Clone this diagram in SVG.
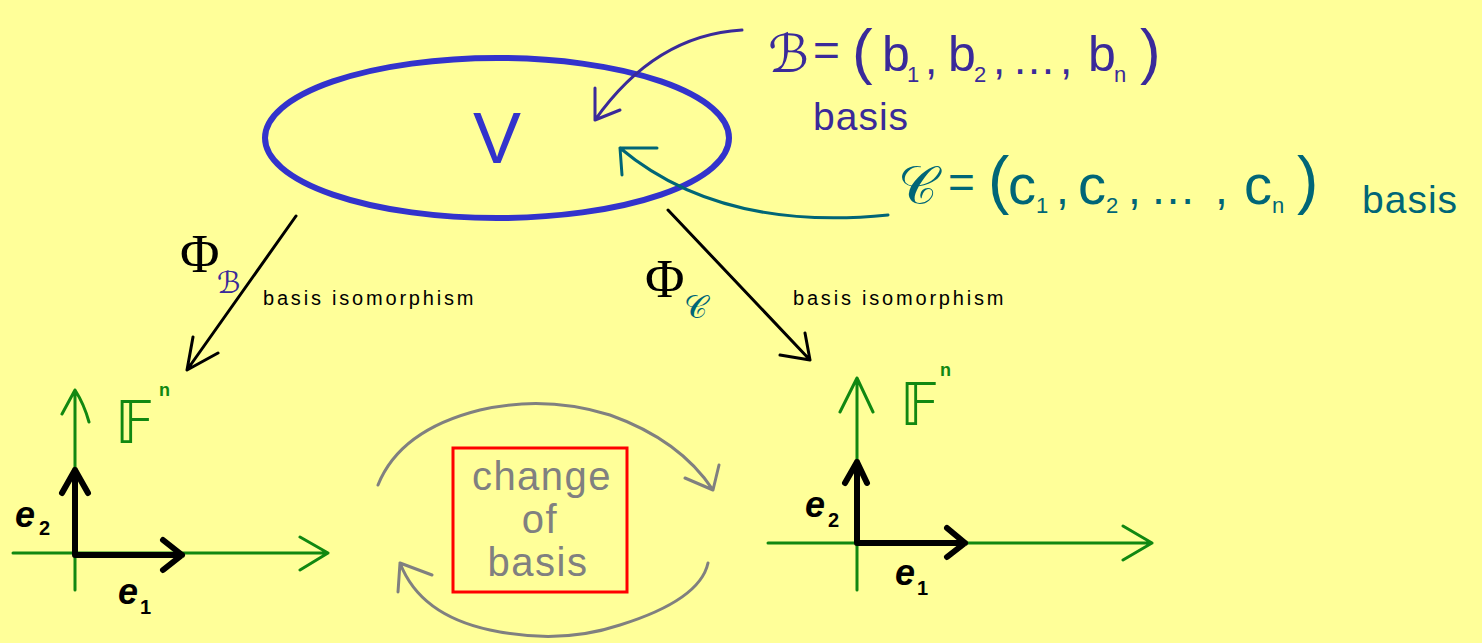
<svg xmlns="http://www.w3.org/2000/svg" width="1482" height="643" viewBox="0 0 1482 643">
<style>
text{font-family:"Liberation Sans","DejaVu Sans",sans-serif}
.pur{fill:#3a2a9a}
.teal{fill:#006677}
.blk{fill:#000}
.grn{fill:#118811}
.gry{fill:#808080}
.ln{fill:none;stroke-linecap:round;stroke-linejoin:round}
</style>
<rect width="1482" height="643" fill="#ffff99"/>
<g id="V">
<ellipse cx="497" cy="138" rx="232" ry="80" fill="none" stroke="#3333cc" stroke-width="6"/>
<text x="497" y="163" font-size="72" text-anchor="middle" style="fill:#3333cc">V</text>
</g>
<g id="basisB">
<text y="72" class="pur" font-size="52"><tspan x="768">ℬ</tspan></text>
<text y="66" class="pur" font-size="46"><tspan x="813">=</tspan></text>
<text y="72" class="pur" font-size="62"><tspan x="852">(</tspan><tspan x="1140">)</tspan></text>
<text y="71" class="pur" font-size="50"><tspan x="882">b</tspan><tspan x="948">b</tspan><tspan x="1088">b</tspan></text>
<text y="82" class="pur" font-size="22"><tspan x="907">1</tspan><tspan x="974">2</tspan><tspan x="1114">n</tspan></text>
<text y="74" class="pur" font-size="44"><tspan x="925">,</tspan><tspan x="993">,</tspan><tspan x="1012">…</tspan><tspan x="1060">,</tspan></text>
<text x="813" y="130" class="pur" font-size="39" letter-spacing="1">basis</text>
</g>
<g id="basisC">
<text y="204" class="teal" font-size="54"><tspan x="898">𝒞</tspan></text>
<text y="198" class="teal" font-size="46"><tspan x="948">=</tspan></text>
<text y="202" class="teal" font-size="64"><tspan x="988">(</tspan><tspan x="1297">)</tspan></text>
<text y="204" class="teal" font-size="56"><tspan x="1008">c</tspan><tspan x="1078">c</tspan><tspan x="1244">c</tspan></text>
<text y="213" class="teal" font-size="22"><tspan x="1036">1</tspan><tspan x="1106">2</tspan><tspan x="1272">n</tspan></text>
<text y="204" class="teal" font-size="46"><tspan x="1056">,</tspan><tspan x="1128">,</tspan><tspan x="1150">…</tspan><tspan x="1215">,</tspan></text>
<text x="1362" y="213" class="teal" font-size="39" letter-spacing="1">basis</text>
</g>
<g id="Fleft">
<path class="ln" d="M75 590 V390 M62 414 L75 390 Q84 404 89 422 M13 553 H328 M300 537 L328 553 L300 570" stroke="#118811" stroke-width="3"/>
<path class="ln" d="M75 555 H182 M163 540 L182 555 L163 570 M75 555 V470 M62 493 L75 470 L88 493" stroke="#000" stroke-width="6"/>
<text x="115" y="443" class="grn" font-size="58">𝔽</text>
<text x="159" y="396" class="grn" font-size="18" font-weight="bold">n</text>
<text x="15" y="527" class="blk" font-size="36" font-weight="bold" font-style="italic">e</text>
<text x="39" y="535" class="blk" font-size="20" font-weight="bold">2</text>
<text x="118" y="604" class="blk" font-size="36" font-weight="bold" font-style="italic">e</text>
<text x="140" y="614" class="blk" font-size="20" font-weight="bold">1</text>
</g>
<g id="Fright">
<path class="ln" d="M857 590 V378 M840 412 L857 378 L873 412 M768 543 H1152 M1123 526 L1152 543 L1123 560" stroke="#118811" stroke-width="3"/>
<path class="ln" d="M857 543 H965 M947 528 L965 543 L947 557 M857 543 V462 M845 483 L857 462 L867 483" stroke="#000" stroke-width="6"/>
<text x="900" y="425" class="grn" font-size="58">𝔽</text>
<text x="940" y="376" class="grn" font-size="18" font-weight="bold">n</text>
<text x="805" y="517" class="blk" font-size="36" font-weight="bold" font-style="italic">e</text>
<text x="828" y="527" class="blk" font-size="20" font-weight="bold">2</text>
<text x="895" y="585" class="blk" font-size="36" font-weight="bold" font-style="italic">e</text>
<text x="917" y="595" class="blk" font-size="20" font-weight="bold">1</text>
</g>
<g id="change">
<rect x="453" y="448" width="174" height="144" fill="none" stroke="#ff0000" stroke-width="3"/>
<text x="542" y="490" class="gry" font-size="40" letter-spacing="1.5" text-anchor="middle">change</text>
<text x="540" y="533" class="gry" font-size="40" letter-spacing="1.5" text-anchor="middle">of</text>
<text x="538" y="576" class="gry" font-size="40" letter-spacing="1.5" text-anchor="middle">basis</text>
</g>
<g id="labels">
<text x="180" y="272" class="blk" font-size="54" style="font-family:'Liberation Serif',serif">Φ</text>
<text x="217" y="293" class="pur" font-size="30">ℬ</text>
<text x="263" y="305" class="blk" font-size="20" letter-spacing="2.8">basis isomorphism</text>
<text x="645" y="297" class="blk" font-size="54" style="font-family:'Liberation Serif',serif">Φ</text>
<text x="684" y="318" class="teal" font-size="32">𝒞</text>
<text x="793" y="305" class="blk" font-size="20" letter-spacing="2.8">basis isomorphism</text>
</g>
<g id="connectors">
<path class="ln" d="M742 30 Q655 35 595 120 M595 88 L595 120 L620 110" stroke="#3a2a9a" stroke-width="3"/>
<path class="ln" d="M888 215 Q720 232 620 148 M657 148 L620 148 L622 175" stroke="#006677" stroke-width="3"/>
<path class="ln" d="M296 216 L187 370 M193 337 L187 370 L218 353" stroke="#000" stroke-width="3"/>
<path class="ln" d="M668 210 L810 360 M805 333 L810 360 L780 355" stroke="#000" stroke-width="3"/>
<path class="ln" d="M378 485 Q400 430 480 410 Q545 395 610 415 Q680 440 713 490 M719 465 L713 490 L685 478" stroke="#808080" stroke-width="3"/>
<path class="ln" d="M708 563 Q700 600 620 625 Q560 645 490 630 Q420 615 400 563 M398 592 L400 563 L432 575" stroke="#808080" stroke-width="3"/>
</g>
</svg>
